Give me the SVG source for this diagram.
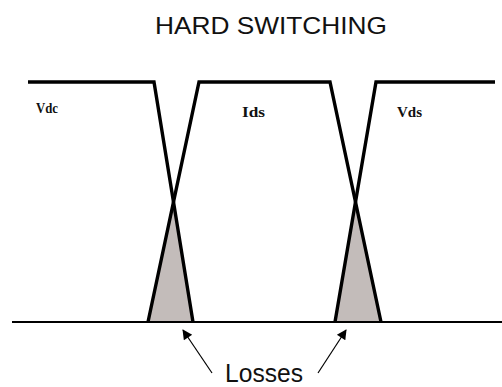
<svg xmlns="http://www.w3.org/2000/svg" width="502" height="387" viewBox="0 0 502 387">
<defs>
<style>
.wave{fill:none;stroke:#000;stroke-width:3.4;stroke-linejoin:miter}
.base{fill:none;stroke:#000;stroke-width:2}
.loss{fill:#c3bcba;stroke:none}
.lbl{font-family:"Liberation Serif","Times New Roman",serif;font-weight:bold;font-size:14px;fill:#111}
.sans{font-family:"Liberation Sans",Arial,sans-serif;fill:#111}
.arr{stroke:#000;stroke-width:1.2;fill:none}
</style>
<marker id="ah" viewBox="0 0 10 10" refX="9" refY="5" markerWidth="12" markerHeight="10" markerUnits="userSpaceOnUse" orient="auto">
<path d="M0,0 L10,5 L0,10 z" fill="#000"/>
</marker>
</defs>
<rect width="502" height="387" fill="#fff"/>
<text class="sans" x="155" y="33.5" font-size="24" textLength="232" lengthAdjust="spacingAndGlyphs">HARD SWITCHING</text>
<g id="loss-areas">
<polygon class="loss" points="148,322 173.5,202 193,322"/>
<polygon class="loss" points="335,322 355.5,202 381,322"/>
</g>
<g id="baseline">
<line class="base" x1="12" y1="322" x2="502" y2="322"/>
</g>
<g id="waveforms">
<polyline class="wave" points="28,82 154,82 193,322"/>
<polyline class="wave" points="148,322 199,82 330,82 381,322"/>
<polyline class="wave" points="335,322 376,82 495,82"/>
</g>
<g id="labels">
<text class="lbl" x="36" y="113" textLength="22" lengthAdjust="spacingAndGlyphs">Vdc</text>
<text class="lbl" x="242" y="117" font-size="15" textLength="23" lengthAdjust="spacingAndGlyphs">Ids</text>
<text class="lbl" x="397" y="117" font-size="15" textLength="25" lengthAdjust="spacingAndGlyphs">Vds</text>
</g>
<g id="connectors">
<line class="arr" x1="212" y1="373" x2="183" y2="330" marker-end="url(#ah)"/>
<line class="arr" x1="318" y1="373" x2="346" y2="330" marker-end="url(#ah)"/>
</g>
<g id="losses-label">
<text class="sans" x="225" y="382" font-size="25" textLength="78" lengthAdjust="spacingAndGlyphs">Losses</text>
</g>
</svg>
